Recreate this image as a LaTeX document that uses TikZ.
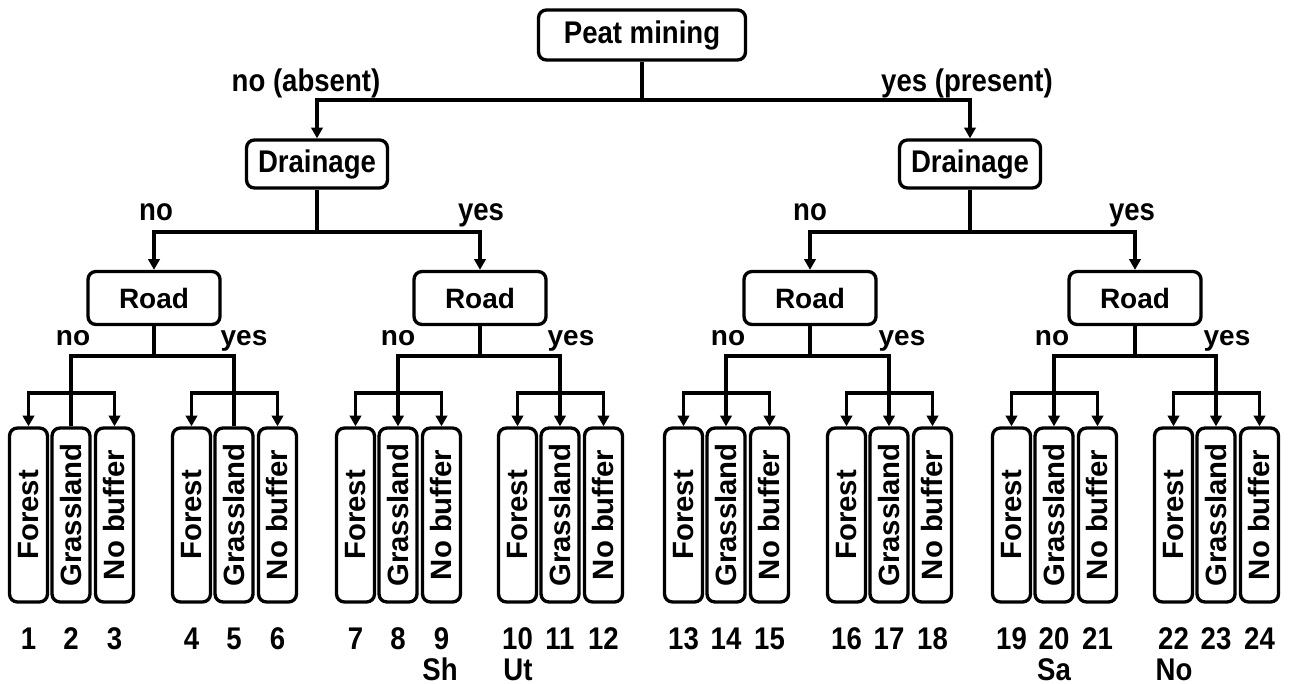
\documentclass[tikz,border=0pt]{standalone}
\usepackage{fontspec}
\setmainfont{Liberation Sans}
\newfontfamily\narrowf[FakeStretch=0.88]{Liberation Sans}
\usetikzlibrary{arrows.meta}
\begin{document}
\begin{tikzpicture}[x=0.75pt,y=-0.75pt,
  lw/.style={line width=2.5pt},
  box/.style={draw,lw,rounded corners=6pt,inner sep=0pt,align=center},
  wide/.style={font=\fontsize{21}{24}\selectfont\bfseries},
  leaffont/.style={font=\fontsize{22}{24}\selectfont\bfseries},
  narrow/.style={font=\narrowf\fontsize{23.5}{26}\selectfont\bfseries},
  peatbox/.style={box,narrow,minimum width=155.25pt,minimum height=37.5pt},
  drainbox/.style={box,narrow,minimum width=105.75pt,minimum height=36pt},
  roadbox/.style={box,wide,minimum width=99pt,minimum height=39.75pt},
  leaf/.style={box,leaffont,minimum width=28.5pt,minimum height=130.5pt},
  lbl/.style={inner sep=0pt,anchor=base},
  arr/.style={lw,-{Triangle[length=8pt,width=8.5pt]}},
  plain/.style={lw}]
\useasboundingbox (0,0) rectangle (1290,684);

% main nodes
\node[peatbox] (P) at (642,35) {Peat mining};
\node[drainbox] (D1) at (317,164) {Drainage};
\node[drainbox] (D2) at (970,164) {Drainage};
\node[roadbox] (R1) at (154,298) {Road};
\node[roadbox] (R2) at (480,298) {Road};
\node[roadbox] (R3) at (810,298) {Road};
\node[roadbox] (R4) at (1135,298) {Road};

% leaves and numbers
\foreach \g/\cx in {1/71,2/234,3/398,4/560,5/726,6/889,7/1054,8/1216}{
  \pgfmathtruncatemacro\a{3*\g-2}
  \pgfmathtruncatemacro\b{3*\g-1}
  \pgfmathtruncatemacro\c{3*\g}
  \node[leaf] (L\a) at (\cx-42.5,515) {\rotatebox{90}{Forest}};
  \node[leaf] (L\b) at (\cx,515) {\rotatebox{90}{Grassland}};
  \node[leaf] (L\c) at (\cx+43.5,515) {\rotatebox{90}{No buffer}};
  \node[lbl,narrow] (n\a) at (\cx-42.5,649) {\a};
  \node[lbl,narrow] (n\b) at (\cx,649) {\b};
  \node[lbl,narrow] (n\c) at (\cx+43.5,649) {\c};
  \coordinate (G\g) at (L\b.north |- 0,393);
  \draw[arr] (G\g) -| (L\a.north);
  \draw[arr] (G\g) -| (L\c.north);
}

% bottom site labels
\node[lbl,narrow] (sh) at (440,680) {Sh};
\node[lbl,narrow] (ut) at (518,680) {Ut};
\node[lbl,narrow] (sa) at (1054,680) {Sa};
\node[lbl,narrow] (no) at (1174,680) {No};

% peat connectors
\coordinate (jP) at (P.south |- 0,100);
\draw[plain] (P.south) -- (jP);
\draw[arr] (jP) -| (D1.north);
\draw[arr] (jP) -| (D2.north);
\node[lbl,narrow] (lno0) at (306,92) {no (absent)};
\node[lbl,narrow] (lyes0) at (967,92) {yes (present)};

% drainage connectors
\coordinate (jD1) at (D1.south |- 0,232);
\draw[plain] (D1.south) -- (jD1);
\draw[arr] (jD1) -| (R1.north);
\draw[arr] (jD1) -| (R2.north);
\coordinate (jD2) at (D2.south |- 0,232);
\draw[plain] (D2.south) -- (jD2);
\draw[arr] (jD2) -| (R3.north);
\draw[arr] (jD2) -| (R4.north);
\node[lbl,narrow] (dno1) at (156,221) {no};
\node[lbl,narrow] (dyes1) at (481,221) {yes};
\node[lbl,narrow] (dno2) at (810,221) {no};
\node[lbl,narrow] (dyes2) at (1132,221) {yes};

% road connectors
\coordinate (jR1) at (R1.south |- 0,356);
\draw[plain] (R1.south) -- (jR1);
\draw[plain] (jR1) -| (L2.north);
\draw[plain] (jR1) -| (L5.north);
\coordinate (jR2) at (R2.south |- 0,356);
\draw[plain] (R2.south) -- (jR2);
\draw[arr] (jR2) -| (L8.north);
\draw[arr] (jR2) -| (L11.north);
\coordinate (jR3) at (R3.south |- 0,356);
\draw[plain] (R3.south) -- (jR3);
\draw[arr] (jR3) -| (L14.north);
\draw[arr] (jR3) -| (L17.north);
\coordinate (jR4) at (R4.south |- 0,356);
\draw[plain] (R4.south) -- (jR4);
\draw[arr] (jR4) -| (L20.north);
\draw[arr] (jR4) -| (L23.north);

\node[lbl,wide] (rno1) at (73,346) {no};
\node[lbl,wide] (ryes1) at (244,346) {yes};
\node[lbl,wide] (rno2) at (398,346) {no};
\node[lbl,wide] (ryes2) at (571,346) {yes};
\node[lbl,wide] (rno3) at (728,346) {no};
\node[lbl,wide] (ryes3) at (902,346) {yes};
\node[lbl,wide] (rno4) at (1052,346) {no};
\node[lbl,wide] (ryes4) at (1227,346) {yes};
\end{tikzpicture}
\end{document}
